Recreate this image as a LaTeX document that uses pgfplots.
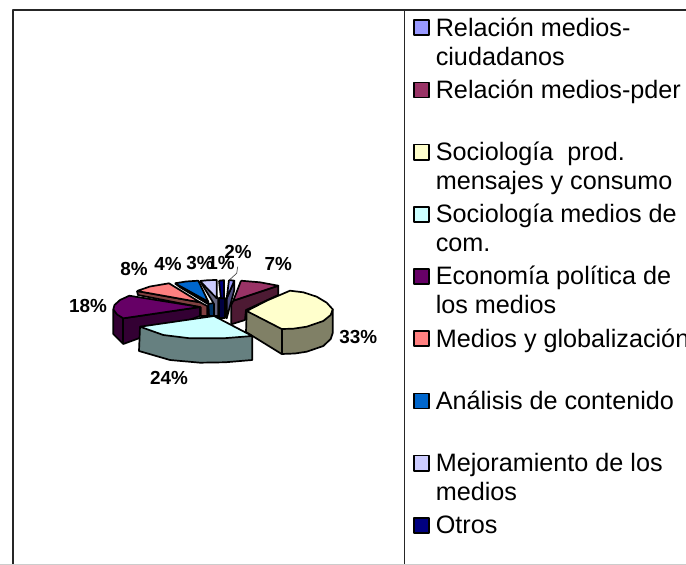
\documentclass[border=0pt]{standalone}
\usepackage{pgfplots}
\pgfplotsset{compat=1.18}
\usepackage{fontspec}
\setmainfont{Liberation Sans}
\definecolor{c1}{HTML}{9999FF}\definecolor{c1d}{HTML}{4C4C80}
\definecolor{c2}{HTML}{993366}\definecolor{c2d}{HTML}{4D1A33}
\definecolor{c3}{HTML}{FFFFCC}\definecolor{c3d}{HTML}{808066}
\definecolor{c4}{HTML}{CCFFFF}\definecolor{c4d}{HTML}{668080}
\definecolor{c5}{HTML}{660066}\definecolor{c5d}{HTML}{330033}
\definecolor{c6}{HTML}{FF8080}\definecolor{c6d}{HTML}{804040}
\definecolor{c7}{HTML}{0066CC}\definecolor{c7d}{HTML}{003366}
\definecolor{c8}{HTML}{CCCCFF}\definecolor{c8d}{HTML}{666680}
\definecolor{c9}{HTML}{000080}\definecolor{c9d}{HTML}{000040}
\newcommand{\legtwo}[2]{\hspace*{6pt}\parbox[t]{262pt}{\strut #1\\\strut #2}}
\begin{document}
\begin{tikzpicture}
\path[use as bounding box,clip] (0,0) rectangle (686pt,565pt);
\begin{axis}[
  at={(0,0)},anchor=south west,scale only axis,width=686pt,height=565pt,
  xmin=0,xmax=686,ymin=0,ymax=565,y dir=reverse,axis lines=none,
  clip=false,
  every axis plot/.append style={line join=round,line width=1.7pt,draw=black},
  legend image code/.code={\draw[#1] (0.7pt,0.7pt) rectangle (15.8pt,15.8pt);},
  legend style={at={(axis cs:413,15.7)},anchor=north west,draw=none,fill=none,inner sep=0pt,outer sep=0pt,
    font=\fontsize{25.2}{29}\selectfont,
    nodes={inner sep=0pt,outer sep=0pt},row sep={62.2pt,between origins},
    cells={anchor=base west}},
]
% table frame
\addplot[forget plot,draw=black!85,line width=1.3pt] coordinates {(13,565)(13,10)(686,10)};
\addplot[forget plot,draw=black!85,line width=1.3pt] coordinates {(404.5,10)(404.5,565)};
\addplot[forget plot,draw=black!20,line width=1pt] coordinates {(0,564.5)(686,564.5)};
% walls and rims, back to front
\addplot[forget plot,fill=c7d] coordinates {(175,283.3)(180,287.3)(208,304)(214,303)(214,316)(209,316)(208.3,301.7)(175,283.3)};
\addplot[forget plot,fill=c6d] coordinates {(137,291)(138,295)(200.7,307.3)(200.7,316)(207.3,316)(207.3,306)(200,302.3)(137,291)};
\addplot[forget plot,fill=c8d] coordinates {(200,281)(214,304)(214,316)(218.3,316)(218.3,298.3)(200,281)};
\addplot[forget plot,fill=c9d] coordinates {(219,298.3)(224.7,298.3)(224.7,318)(219,318)(219,298.3)};
\addplot[forget plot,fill=c1d] coordinates {(234.3,280.7)(234.3,290)(226.7,318.3)(226.7,298.3)(234.3,280.7)};
\addplot[forget plot,fill=c2d] coordinates {(278.3,285.7)(278.3,295)(246,310)(245,320)(231.3,324.3)(231.3,305)(233.3,300.7)(278.3,285.7)};
\addplot[forget plot,fill=c5d] coordinates {(113.3,309.3)(113.3,334)(123.3,344)(200,316)(200,307)(123.3,318.3)(113.3,309.3)};
\addplot[forget plot] coordinates {(123.3,318.3)(123.3,344)};
\addplot[forget plot,fill=c3d] coordinates {(246.7,311)(246,332)(281.7,354)(295,353.5)(306.7,351.7)(323.3,346)(330.7,339)(332.7,333)(332.7,309.3)(246.7,311)};
\addplot[forget plot] coordinates {(281.7,329)(281.7,354)};
\addplot[forget plot,fill=c4d] coordinates {(140,326.7)(139,351)(170,360)(200,362.7)(225,362.3)(252.3,360)(252.3,336)(140,326.7)};
% tops, in the order of the legend
\addplot[fill=c1] coordinates {(229,280)(234.3,280.7)(226.7,298.3)(229,280)};
\addlegendentry{\legtwo{Relación medios-}{ciudadanos}}
\addplot[fill=c2] coordinates {(241,280.7)(260,282.3)(278.3,285.7)(233.3,300.7)(241,280.7)};
\addlegendentry{\legtwo{Relación medios-pder}{}}
\addplot[fill=c3] coordinates {(246.7,311)(266.7,300.7)(290,290.7)(303.3,292.3)(316.7,296.7)(326.7,302.7)(332.7,309.3)(330.7,315)(323.3,321)(306.7,326.7)(293.3,328.7)(281.7,329)(246.7,311)};
\addlegendentry{\legtwo{Sociología\ \ prod.}{mensajes y consumo}}
\addplot[fill=c4] coordinates {(214,316)(140,326.7)(163.3,335)(190,338.3)(223.3,338.3)(252.3,336)(214,316)};
\addlegendentry{\legtwo{Sociología medios de}{com.}}
\addplot[fill=c5] coordinates {(200,307)(129.3,295.7)(120,300)(114.5,305)(113.3,309.3)(117,314.5)(123.3,318.3)(200,307)};
\addlegendentry{\legtwo{Economía política de}{los medios}}
\addplot[fill=c6] coordinates {(137,291)(150,286.5)(169,283.3)(200,302.3)(137,291)};
\addlegendentry{\legtwo{Medios y globalización}{}}
\addplot[fill=c7] coordinates {(175,283.3)(186,281.5)(198.3,280.7)(208.3,301.7)(175,283.3)};
\addlegendentry{\legtwo{Análisis de contenido}{}}
\addplot[fill=c8] coordinates {(200,281)(208,280.2)(216.7,280)(216.7,298.3)(200,281)};
\addlegendentry{\legtwo{Mejoramiento de los}{medios}}
\addplot[fill=c9] coordinates {(219,280.7)(224,280.2)(224,298.3)(221,298.3)(219,280.7)};
\addlegendentry{\hspace*{6pt}\parbox[t]{262pt}{\strut Otros}}
% leader of the 2% label
\addplot[forget plot,draw=black!70,line width=0.7pt] coordinates {(237.7,266.7)(236.7,273.3)(229.3,280)};
% data labels
\begin{scope}[every node/.style={font=\fontsize{18.9}{20}\selectfont\bfseries,inner sep=0pt}]
\node at (axis cs:238,251.7) {2\%};
\node at (axis cs:278.3,264.3) {7\%};
\node at (axis cs:358.3,337.3) {33\%};
\node at (axis cs:169,377.7) {24\%};
\node at (axis cs:88,306) {18\%};
\node at (axis cs:134,269.3) {8\%};
\node at (axis cs:168,264.3) {4\%};
\node at (axis cs:200,263) {3\%};
\node at (axis cs:221,263.3) {1\%};
\end{scope}
\end{axis}
\end{tikzpicture}
\end{document}
